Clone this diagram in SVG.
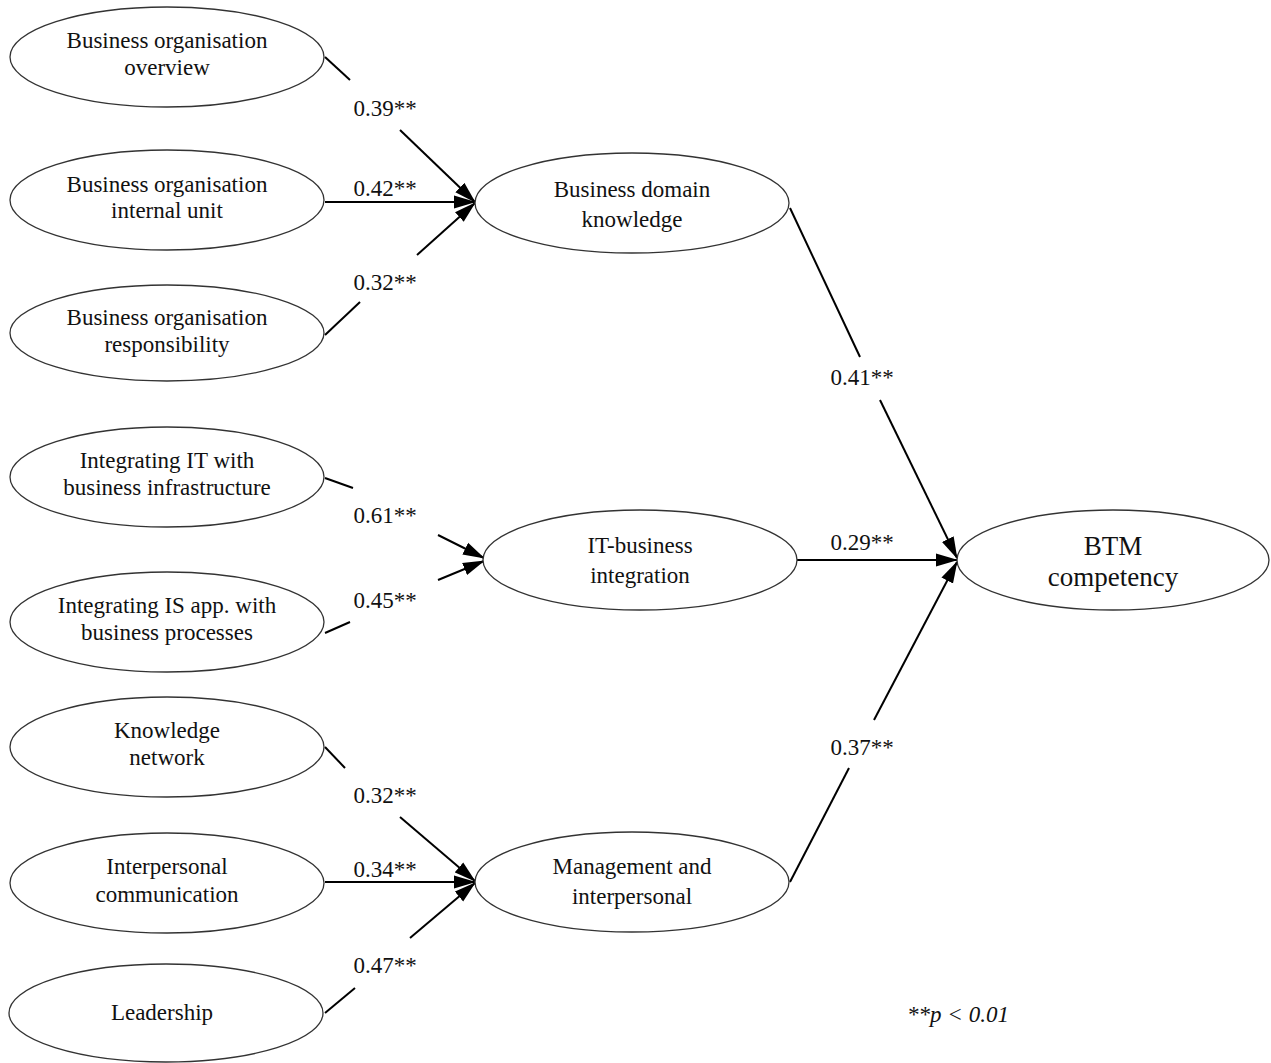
<svg xmlns="http://www.w3.org/2000/svg" width="1271" height="1063" viewBox="0 0 1271 1063">
<style>
.n{fill:#fff;stroke:#333;stroke-width:1.3}
.t{font-family:"Liberation Serif","Times New Roman",serif;font-size:23px;fill:#111;text-anchor:middle}
.b{font-size:27px}
.c{stroke:#000;stroke-width:2;fill:none}
.l{font-family:"Liberation Serif","Times New Roman",serif;font-size:23px;fill:#111;text-anchor:middle}
</style>
<defs>
<marker id="ah" markerUnits="userSpaceOnUse" markerWidth="22" markerHeight="14" viewBox="0 0 22 14" refX="21" refY="7" orient="auto">
<path d="M0,0.5 L22,7 L0,13.5 z" fill="#000"/>
</marker>
</defs>
<rect width="1271" height="1063" fill="#fff"/>
<g id="connectors">
<line class="c" x1="325" y1="57" x2="350" y2="80"/>
<line class="c" x1="400" y1="130" x2="475" y2="202" marker-end="url(#ah)"/>
<line class="c" x1="325" y1="202" x2="475" y2="202" marker-end="url(#ah)"/>
<line class="c" x1="325" y1="335" x2="360" y2="302"/>
<line class="c" x1="417" y1="255" x2="475" y2="203" marker-end="url(#ah)"/>
<line class="c" x1="325" y1="478" x2="353" y2="488"/>
<line class="c" x1="438" y1="535" x2="484" y2="558" marker-end="url(#ah)"/>
<line class="c" x1="325" y1="633" x2="350" y2="622"/>
<line class="c" x1="438" y1="580" x2="484" y2="561" marker-end="url(#ah)"/>
<line class="c" x1="325" y1="747" x2="345" y2="768"/>
<line class="c" x1="400" y1="817" x2="475" y2="881" marker-end="url(#ah)"/>
<line class="c" x1="325" y1="882" x2="475" y2="882" marker-end="url(#ah)"/>
<line class="c" x1="325" y1="1013" x2="355" y2="988"/>
<line class="c" x1="410" y1="938" x2="475" y2="883" marker-end="url(#ah)"/>
<line class="c" x1="790" y1="208" x2="860" y2="357"/>
<line class="c" x1="880" y1="400" x2="957" y2="558" marker-end="url(#ah)"/>
<line class="c" x1="797" y1="560" x2="957" y2="560" marker-end="url(#ah)"/>
<line class="c" x1="790" y1="882" x2="849" y2="768"/>
<line class="c" x1="874" y1="720" x2="957" y2="562" marker-end="url(#ah)"/>
</g>
<g id="labels">
<text class="l" x="385" y="116">0.39**</text>
<text class="l" x="385" y="196">0.42**</text>
<text class="l" x="385" y="290">0.32**</text>
<text class="l" x="385" y="523">0.61**</text>
<text class="l" x="385" y="608">0.45**</text>
<text class="l" x="385" y="803">0.32**</text>
<text class="l" x="385" y="877">0.34**</text>
<text class="l" x="385" y="973">0.47**</text>
<text class="l" x="862" y="385">0.41**</text>
<text class="l" x="862" y="550">0.29**</text>
<text class="l" x="862" y="755">0.37**</text>
</g>
<g id="n1"><ellipse class="n" cx="167" cy="57" rx="157" ry="50"/><text class="t" x="167" y="48">Business organisation</text><text class="t" x="167" y="75">overview</text></g>
<g id="n2"><ellipse class="n" cx="167" cy="200" rx="157" ry="50"/><text class="t" x="167" y="192">Business organisation</text><text class="t" x="167" y="218">internal unit</text></g>
<g id="n3"><ellipse class="n" cx="167" cy="333" rx="157" ry="48"/><text class="t" x="167" y="325">Business organisation</text><text class="t" x="167" y="352">responsibility</text></g>
<g id="n4"><ellipse class="n" cx="167" cy="477" rx="157" ry="50"/><text class="t" x="167" y="468">Integrating IT with</text><text class="t" x="167" y="495">business infrastructure</text></g>
<g id="n5"><ellipse class="n" cx="167" cy="622" rx="157" ry="50"/><text class="t" x="167" y="613">Integrating IS app. with</text><text class="t" x="167" y="640">business processes</text></g>
<g id="n6"><ellipse class="n" cx="167" cy="747" rx="157" ry="50"/><text class="t" x="167" y="738">Knowledge</text><text class="t" x="167" y="765">network</text></g>
<g id="n7"><ellipse class="n" cx="167" cy="883" rx="157" ry="50"/><text class="t" x="167" y="874">Interpersonal</text><text class="t" x="167" y="902">communication</text></g>
<g id="n8"><ellipse class="n" cx="166" cy="1013" rx="157" ry="49"/><text class="t" x="162" y="1020">Leadership</text></g>
<g id="n9"><ellipse class="n" cx="632" cy="203" rx="157" ry="50"/><text class="t" x="632" y="197">Business domain</text><text class="t" x="632" y="227">knowledge</text></g>
<g id="n10"><ellipse class="n" cx="640" cy="560" rx="157" ry="50"/><text class="t" x="640" y="553">IT-business</text><text class="t" x="640" y="583">integration</text></g>
<g id="n11"><ellipse class="n" cx="632" cy="882" rx="157" ry="50"/><text class="t" x="632" y="874">Management and</text><text class="t" x="632" y="904">interpersonal</text></g>
<g id="n12"><ellipse class="n" cx="1113" cy="560" rx="156" ry="50"/><text class="t b" x="1113" y="555">BTM</text><text class="t b" x="1113" y="586">competency</text></g>
<text class="t" x="958" y="1022" font-size="27" font-style="italic">**p &lt; 0.01</text>
</svg>
